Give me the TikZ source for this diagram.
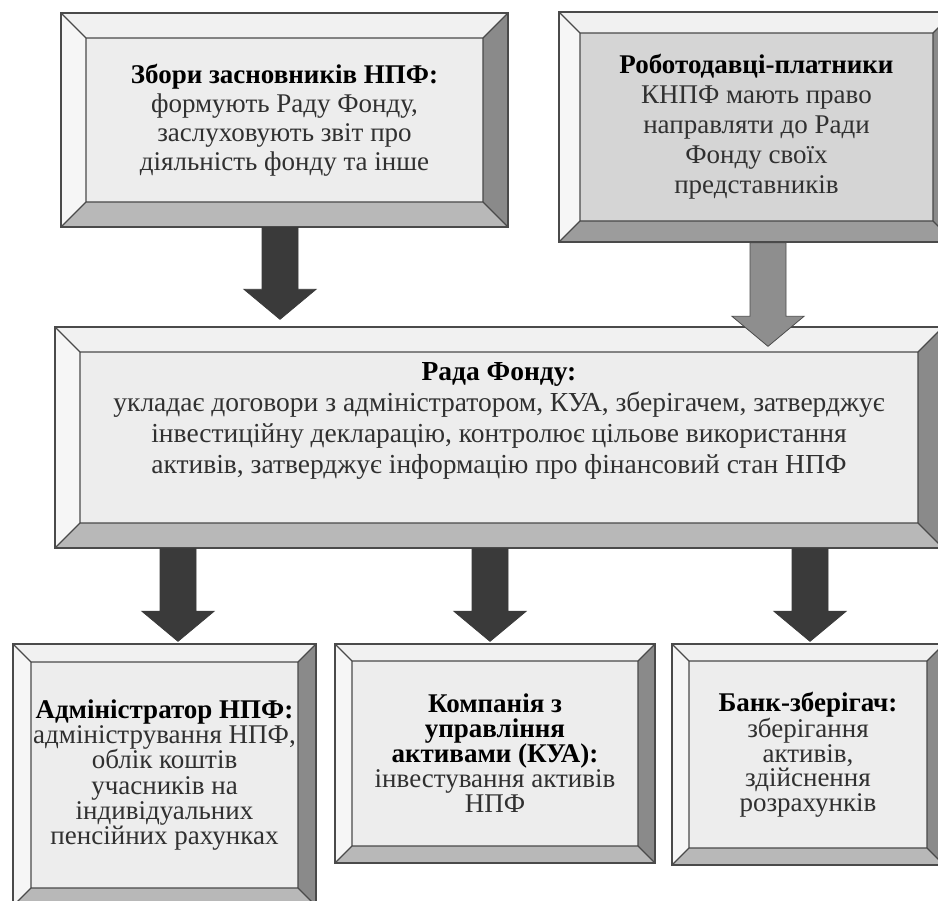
\documentclass[tikz,border=0pt]{standalone}
\usepackage{fontspec}
\setmainfont{Liberation Serif}
\usetikzlibrary{calc}

\definecolor{facelight}{HTML}{EDEDED}
\definecolor{facedark}{HTML}{D5D5D5}
\definecolor{bevlight}{HTML}{F6F6F6}
\definecolor{bevtop}{HTML}{F1F1F1}
\definecolor{bevmid}{HTML}{B8B8B8}
\definecolor{bevdeep}{HTML}{9C9C9C}
\definecolor{bevdark}{HTML}{8A8A8A}
\definecolor{edgegray}{HTML}{4A4A4A}
\definecolor{arrowdark}{HTML}{3A3A3A}
\definecolor{arrowmid}{HTML}{8E8E8E}
\definecolor{bodytext}{HTML}{303030}

\newcommand{\boxhead}[1]{{\bfseries\color{black}#1}}

% block arrow: #2 gives the start height, #3 the tip
\newcommand{\fatarrow}[3][]{%
  \draw[fat arrow,#1]
    let \p1=#2, \p2=#3 in
    (\x2-18pt,\y1) -- (\x2+18pt,\y1) -- (\x2+18pt,\y2+30pt)
    -- (\x2+36pt,\y2+30pt) -- (\x2,\y2) -- (\x2-36pt,\y2+30pt)
    -- (\x2-18pt,\y2+30pt) -- cycle;
}

\tikzset{
  bevel size/.store in=\bevw,
  bevel low/.store in=\bevlow,
  bevel size=25pt, bevel low=bevmid,
  bevel box/.style={
    rectangle, draw=edgegray, line width=1.3pt, fill=facelight,
    inner sep=0pt, align=center, text=bodytext,
    font=\fontsize{27}{29}\selectfont,
    path picture={
      \coordinate (bsw) at (path picture bounding box.south west);
      \coordinate (bne) at (path picture bounding box.north east);
      \coordinate (isw) at ($(bsw)+(\bevw,\bevw)$);
      \coordinate (ine) at ($(bne)-(\bevw,\bevw)$);
      \fill[bevlight] (bsw) -- (isw) -- (isw |- ine) -- (bsw |- bne) -- cycle;
      \fill[bevtop] (bsw |- bne) -- (isw |- ine) -- (ine) -- (bne) -- cycle;
      \fill[bevdark] (bne) -- (ine) -- (ine |- isw) -- (bne |- bsw) -- cycle;
      \fill[\bevlow] (bne |- bsw) -- (ine |- isw) -- (isw) -- (bsw) -- cycle;
      \draw[edgegray, line width=1.3pt] (isw) rectangle (ine)
        (bsw) -- (isw) (bsw |- bne) -- (isw |- ine)
        (bne) -- (ine) (bne |- bsw) -- (ine |- isw);
    }
  },
  fat arrow/.style={
    draw=arrowdark, fill=arrowdark, line width=0.8pt, line join=miter
  }
}

\begin{document}
\begin{tikzpicture}[x=1pt, y=-1pt]
  \useasboundingbox (0,0) rectangle (938,901);

  % upper level
  \node[bevel box, minimum width=447pt, minimum height=214pt]
    (zbory) at (284.5,120)
    {\boxhead{Збори засновників НПФ:}\\ формують Раду Фонду,\\
     заслуховують звіт про\\ діяльність фонду та інше};

  \node[bevel box, fill=facedark, bevel size=21pt, bevel low=bevdeep,
        minimum width=395pt, minimum height=230pt,
        font=\fontsize{27}{30}\selectfont]
    (roboto) at (756.5,127)
    {\boxhead{Роботодавці-платники}\\ КНПФ мають право\\
     направляти до Ради\\ Фонду своїх\\ представників};

  % council
  \node[bevel box, minimum width=888pt, minimum height=221pt,
        font=\fontsize{27.5}{31}\selectfont, text depth=40pt]
    (rada) at (499,437.5)
    {\boxhead{Рада Фонду:}\\
     укладає договори з адміністратором, КУА, зберігачем, затверджує\\
     інвестиційну декларацію, контролює цільове використання\\
     активів, затверджує інформацію про фінансовий стан НПФ};

  % lower level
  \node[bevel box, bevel size=18pt, minimum width=303pt, minimum height=262pt,
        font=\fontsize{27}{25.3}\selectfont]
    (admin) at (164.5,775)
    {\boxhead{Адміністратор НПФ:}\\ адміністрування НПФ,\\ облік коштів\\
     учасників на\\ індивідуальних\\ пенсійних рахунках};

  \node[bevel box, bevel size=17pt, minimum width=320pt, minimum height=219pt,
        font=\fontsize{27}{25}\selectfont]
    (kua) at (495,753.5)
    {\boxhead{Компанія з}\\ \boxhead{управління}\\ \boxhead{активами (КУА):}\\
     інвестування активів\\ НПФ};

  \node[bevel box, bevel size=17pt, minimum width=272pt, minimum height=221pt,
        font=\fontsize{27}{24.5}\selectfont]
    (bank) at (808,754.5)
    {\boxhead{Банк-зберігач:}\\ зберігання\\ активів,\\ здійснення\\ розрахунків};

  % arrows
  \fatarrow{($(zbory.south)+(-4.5,0)$)}{($(zbory.south |- rada.north)+(-4.5,-7)$)}
  \fatarrow[fill=arrowmid, draw=edgegray]
    {($(roboto.south)+(11.5,0)$)}{($(roboto.south |- rada.north)+(11.5,20)$)}
  \fatarrow{($(admin.north |- rada.south)+(13.5,0)$)}{($(admin.north)+(13.5,-2)$)}
  \fatarrow{($(kua.north |- rada.south)+(-5,0)$)}{($(kua.north)+(-5,-2)$)}
  \fatarrow{($(bank.north |- rada.south)+(2,0)$)}{($(bank.north)+(2,-2)$)}
\end{tikzpicture}
\end{document}
